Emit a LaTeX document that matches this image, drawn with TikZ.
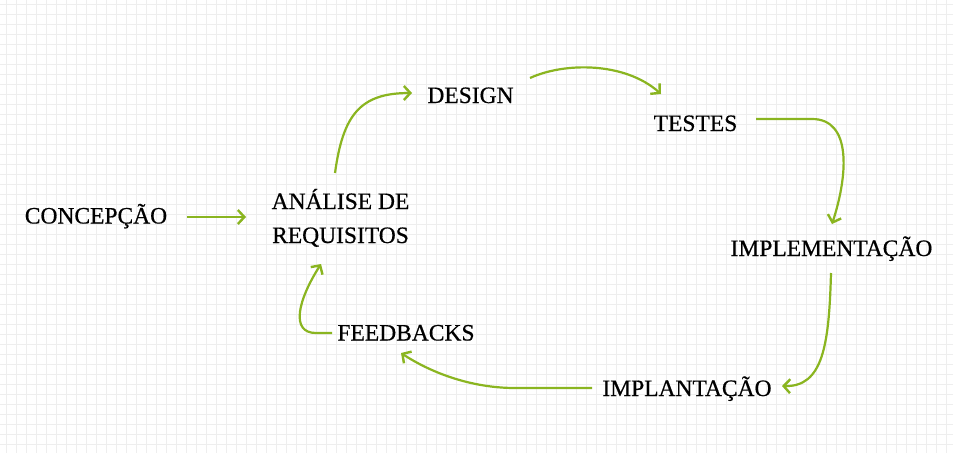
\documentclass[tikz,border=0pt]{standalone}
\usepackage{fontspec}
\setmainfont{Liberation Serif}[FakeBold=0.6]
\usetikzlibrary{arrows.meta,calc}
\definecolor{arrgreen}{RGB}{138,181,32}
\definecolor{gridgray}{RGB}{238,238,238}
\begin{document}
\begin{tikzpicture}[x=1pt,y=-1pt,
  lbl/.style={anchor=base,inner sep=0pt,font=\fontsize{23.5}{34}\selectfont,text=black},
  arr/.style={draw=arrgreen,line width=2.2pt,-{Straight Barb[length=6.5pt,width=14pt,line width=2.4pt]}},
  gridln/.style={draw=gridgray,line width=0.8pt}]
\useasboundingbox (0,0) rectangle (953,453);
\fill[white] (0,0) rectangle (953,453);
\foreach \x in {6,16,...,946} \draw[gridln] (\x,0) -- (\x,453);
\foreach \y in {4,14,...,444} \draw[gridln] (0,\y) -- (953,\y);

\node[lbl] (conc) at (96,223.5) {CONCEPÇÃO};
\node[lbl,align=center] (ana) at (340.5,243) {ANÁLISE DE\\REQUISITOS};
\node[lbl] (des) at (470.5,103) {DESIGN};
\node[lbl] (tes) at (695.5,131) {TESTES};
\node[lbl] (impl) at (831.5,256) {IMPLEMENTAÇÃO};
\node[lbl] (impt) at (687,396) {IMPLANTAÇÃO};
\node[lbl] (feed) at (406,340.5) {FEEDBACKS};

\draw[arr] ($(conc.base)+(91,-6.5)$) -- ($(ana.base)+(-94.5,-26)$);
\draw[arr] ($(ana.base)+(-5.5,-70)$) .. controls (343,115) and (360,93) .. ($(des.base)+(-58.5,-10)$);
\draw[arr] ($(des.base)+(59.5,-25)$) .. controls (565,62) and (625,62) .. ($(tes.base)+(-34.5,-37)$);
\draw[arr] ($(tes.base)+(60.5,-12)$) -- (812,119) .. controls (852,119) and (848,175) .. ($(impl.base)+(0.5,-32)$);
\draw[arr] ($(impl.base)+(-0.5,17)$) .. controls (829,345) and (823,387) .. ($(impt.base)+(95,-10)$);
\draw[arr] ($(impt.base)+(-95,-8)$) -- (515,388) .. controls (470,388) and (430,372) .. ($(feed.base)+(-5,12.5)$);
\draw[arr] ($(feed.base)+(-74,-7.5)$) -- (316,333) .. controls (290,333) and (298,300) .. ($(ana.base)+(-19.5,21)$);
\end{tikzpicture}
\end{document}
